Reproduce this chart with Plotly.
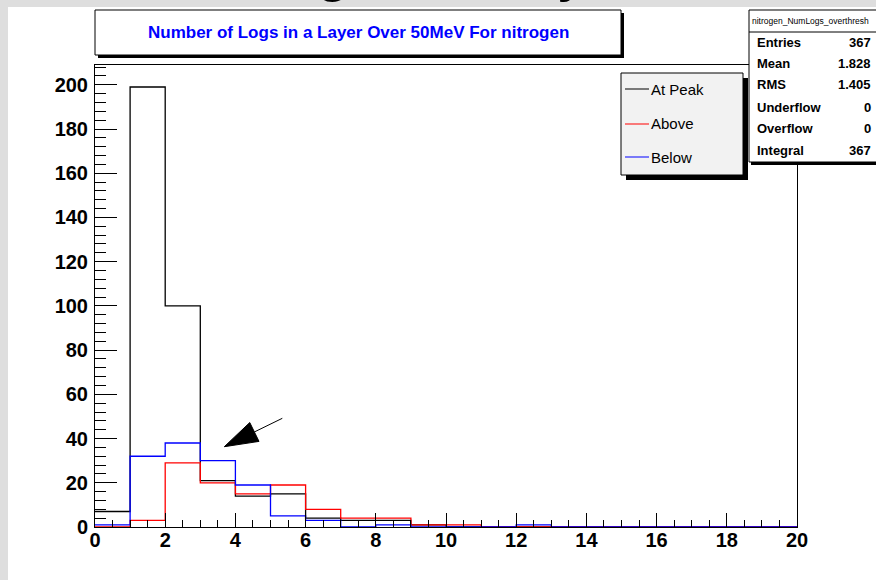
import math
import plotly.graph_objects as go

# ---------------- data ----------------
bin_edges = list(range(0, 21))            # 20 bins of width 1, 0..20
at_peak = [7, 199, 100, 21, 14, 15, 4, 3, 3, 1]
above = [0, 3, 29, 20, 15, 19, 8, 4, 4, 1, 1]
below = [1, 32, 38, 30, 19, 5, 3, 0, 1, 0, 0, 0, 1]
series_names = ["At Peak", "Above", "Below"]
series_colors = ["#000000", "#ff0000", "#0000ff"]

title_text = "Number of Logs in a Layer Over 50MeV For nitrogen"
stats_name = "nitrogen_NumLogs_overthresh"
stats_labels = ["Entries", "Mean", "RMS", "Underflow", "Overflow", "Integral"]
stats_values = ["367", "1.828", "1.405", "0", "0", "367"]

y_max = 208.95
x_ticks = list(range(0, 21, 2))
y_ticks = list(range(0, 201, 20))

# ---------------- layout geometry (pixels) ----------------
W, H = 876, 580
L, R, T, B = 95, 797, 65, 527
PW, PH = R - L, B - T


def px(x):
    return (x - L) / PW


def py(y):
    return (B - y) / PH


FONT = "Liberation Sans, Arial, Helvetica, sans-serif"

fig = go.Figure()


def steps(counts):
    n = len(bin_edges) - 1
    full = list(counts) + [0] * (n - len(counts))
    xs = bin_edges[:]
    ys = full + [full[-1]]
    return xs, ys


for name, counts, col in zip(series_names, [at_peak, above, below], series_colors):
    xs, ys = steps(counts)
    fig.add_trace(go.Scatter(x=xs, y=ys, mode="lines", name=name,
                             line=dict(color=col, width=1.3, shape="hv"),
                             showlegend=False, cliponaxis=False,
                             hoverinfo="skip"))

shapes = []
ann = []

# white canvas over gray background
shapes.append(dict(type="rect", xref="paper", yref="paper", layer="below",
                   x0=px(8), x1=px(880), y0=py(7), y1=py(585),
                   fillcolor="white", line=dict(width=0)))

# partially visible glyphs of a slide title above the canvas
ann.append(dict(xref="paper", yref="paper", x=px(333), y=py(5), text="g",
                showarrow=False, xanchor="center", yanchor="bottom",
                font=dict(family=FONT, size=64, color="black")))
ann.append(dict(xref="paper", yref="paper", x=px(574), y=py(5), text="y",
                showarrow=False, xanchor="center", yanchor="bottom",
                font=dict(family=FONT, size=64, color="black")))

# title box with shadow
shapes.append(dict(type="rect", xref="paper", yref="paper",
                   x0=px(98), x1=px(624), y0=py(58), y1=py(13),
                   fillcolor="black", line=dict(width=0)))
shapes.append(dict(type="rect", xref="paper", yref="paper",
                   x0=px(95), x1=px(621), y0=py(55), y1=py(10),
                   fillcolor="white", line=dict(color="black", width=1)))
ann.append(dict(xref="paper", yref="paper", x=px(358), y=py(33),
                text=title_text, showarrow=False, xanchor="center", yanchor="middle",
                font=dict(family=FONT, size=17, color="#0000ff", weight="bold")))

# stats box
shapes.append(dict(type="rect", xref="paper", yref="paper",
                   x0=px(751), x1=px(890), y0=py(165), y1=py(12),
                   fillcolor="black", line=dict(width=0)))
shapes.append(dict(type="rect", xref="paper", yref="paper",
                   x0=px(749), x1=px(888), y0=py(162), y1=py(10),
                   fillcolor="white", line=dict(color="black", width=1)))
shapes.append(dict(type="line", xref="paper", yref="paper",
                   x0=px(749), x1=px(888), y0=py(32), y1=py(32),
                   line=dict(color="black", width=1)))
ann.append(dict(xref="paper", yref="paper", x=px(750), y=py(21),
                text=stats_name, showarrow=False, xanchor="left", yanchor="middle",
                font=dict(family=FONT, size=8.5, color="black")))
row_y = [42, 64, 85, 107, 128, 150]
for lab, val, yy in zip(stats_labels, stats_values, row_y):
    ann.append(dict(xref="paper", yref="paper", x=px(755), y=py(yy), text=lab,
                    showarrow=False, xanchor="left", yanchor="middle",
                    font=dict(family=FONT, size=13, color="black", weight="bold")))
    ann.append(dict(xref="paper", yref="paper", x=px(873), y=py(yy), text=val,
                    showarrow=False, xanchor="right", yanchor="middle",
                    font=dict(family=FONT, size=13, color="black", weight="bold")))

# legend box
shapes.append(dict(type="rect", xref="paper", yref="paper",
                   x0=px(626), x1=px(748), y0=py(180), y1=py(78),
                   fillcolor="black", line=dict(width=0)))
shapes.append(dict(type="rect", xref="paper", yref="paper",
                   x0=px(621), x1=px(743), y0=py(175), y1=py(73),
                   fillcolor="#f2f2f2", line=dict(color="black", width=1)))
leg_y = [89, 124, 157]
for name, col, yy in zip(series_names, series_colors, leg_y):
    shapes.append(dict(type="line", xref="paper", yref="paper",
                       x0=px(625), x1=px(649), y0=py(yy), y1=py(yy),
                       line=dict(color=col, width=1)))
    ann.append(dict(xref="paper", yref="paper", x=px(649), y=py(yy), text=name,
                    showarrow=False, xanchor="left", yanchor="middle",
                    font=dict(family=FONT, size=15, color="black")))

# arrow (pixel geometry)
tail = (282.3, 418.3)
tip = (224.3, 446.7)
head_len, head_half = 33.5, 10.5
dx, dy = tip[0] - tail[0], tip[1] - tail[1]
ln = math.hypot(dx, dy)
ux, uy = dx / ln, dy / ln
bx, by = tip[0] - ux * head_len, tip[1] - uy * head_len
p1 = (bx - uy * head_half, by + ux * head_half)
p2 = (bx + uy * head_half, by - ux * head_half)
shapes.append(dict(type="line", xref="paper", yref="paper",
                   x0=px(tail[0]), y0=py(tail[1]), x1=px(bx), y1=py(by),
                   line=dict(color="black", width=1)))
path = "M {} {} L {} {} L {} {} Z".format(px(tip[0]), py(tip[1]), px(p1[0]), py(p1[1]),
                                          px(p2[0]), py(p2[1]))
shapes.append(dict(type="path", xref="paper", yref="paper", path=path,
                   fillcolor="black", line=dict(color="black", width=1)))

fig.update_layout(
    width=W, height=H,
    margin=dict(l=L, r=W - R, t=T, b=H - B, pad=0),
    paper_bgcolor="#dedede", plot_bgcolor="white",
    shapes=shapes, annotations=ann, showlegend=False,
    xaxis=dict(range=[0, 20], tickvals=x_ticks, ticks="inside", ticklen=14,
               tickwidth=1, tickcolor="black", showline=True, linecolor="black",
               linewidth=1, mirror=True, showgrid=False, zeroline=False,
               tickfont=dict(family=FONT, size=20, color="black", weight="bold"),
               minor=dict(dtick=0.5, ticks="inside", ticklen=7, tickcolor="black",
                          showgrid=False),
               ticklabelstandoff=-5),
    yaxis=dict(range=[0, y_max], tickvals=y_ticks, ticks="inside", ticklen=22,
               tickwidth=1, tickcolor="black", showline=True, linecolor="black",
               linewidth=1, mirror=True, showgrid=False, zeroline=False,
               tickfont=dict(family=FONT, size=20, color="black", weight="bold"),
               minor=dict(dtick=4, ticks="inside", ticklen=11, tickcolor="black",
                          showgrid=False),
               ticklabelstandoff=2),
)

fig.write_html("out.html", config={"displayModeBar": False},
               post_script="document.body.style.margin='0px';"
                           "document.body.style.overflow='hidden';")
